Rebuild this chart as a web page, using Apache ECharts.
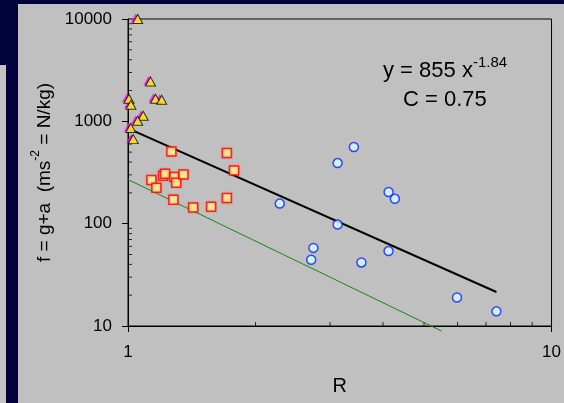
<!DOCTYPE html>
<html><head><meta charset="utf-8">
<script src="https://cdn.jsdelivr.net/npm/echarts@6/dist/echarts.min.js"></script>
<style>html,body{margin:0;padding:0;background:#02023c;overflow:hidden}#c{width:564px;height:403px}</style>
</head><body><div id="c"></div>
<script>
// Data (R, f)
const triangles = [[1.054,10000],[1.130,2455],[1.005,1663],[1.016,1452],[1.161,1663],[1.201,1625],[1.086,1133],[1.054,1013],[1.015,859],[1.029,670]];
const squares = [[1.266,508],[1.712,490],[1.780,331],[1.136,267],[1.167,224],[1.210,294],[1.223,307],[1.287,285],[1.300,251],[1.352,303],[1.280,171],[1.425,144],[1.571,146],[1.712,178]];
const circles = [[2.282,157],[3.414,561],[3.125,391],[4.123,204],[4.266,175],[3.125,98],[2.740,58],[2.707,44.4],[3.557,41.8],[4.123,54],[5.98,19.0],[7.41,13.9]];
const fitLine = [[1,855],[7.41,21.5]];
const lowerLine = [[1,270],[5.5,8.93]];
const xTickLabels = ['1','10'];
const yTickLabels = ['10','100','1000','10000'];
const xMinorTicks = [2,3,4,5,6,7,8,9];
const yMinorTicks = [20,30,40,50,60,70,80,90,200,300,400,500,600,700,800,900,2000,3000,4000,5000,6000,7000,8000,9000];

const FONT = '"Liberation Sans", Arial, sans-serif';
const chart = echarts.init(document.getElementById('c'), null, {renderer:'canvas'});
chart.setOption({
  backgroundColor: '#02023c',
  animation: false,
  textStyle: {fontFamily: FONT},
  graphic: [
    {type:'rect', shape:{x:18,y:4,width:546,height:399}, style:{fill:'#c0c0c0'}, z:-10},
    {type:'rect', shape:{x:17,y:4,width:1,height:399}, style:{fill:'#000000'}, z:-10},
    {type:'rect', shape:{x:0,y:65,width:6,height:338}, style:{fill:'#c4c4c4'}, z:-10},
    {type:'text', left:383, top:55, z:50, style:{
      text:'{a|y = 855 x}{s|-1.84}', fill:'#000', font:'22px '+FONT,
      rich:{a:{fontSize:22, fontFamily:FONT, lineHeight:27, verticalAlign:'bottom'}, s:{fontSize:15, fontFamily:FONT, verticalAlign:'top', lineHeight:15}}
    }},
    {type:'text', left:403, top:89, z:50, style:{text:'C = 0.75', fill:'#000', font:'22px '+FONT}}
  ],
  grid: {left:128, right:9, top:19, bottom:77, show:true, borderColor:'#000', borderWidth:1, backgroundColor:'transparent'},
  xAxis: {
    type:'log', logBase:10, min:1, max:10,
    name:'R', nameLocation:'middle', nameGap:50,
    nameTextStyle:{fontSize:20, color:'#000', fontFamily:FONT},
    axisLine:{lineStyle:{color:'#000', width:1}},
    axisTick:{show:true, length:6, lineStyle:{color:'#000'}},
    axisLabel:{fontSize:17, color:'#000', margin:18, fontFamily:FONT,
      formatter: v => xTickLabels[Math.round(Math.log10(v))] ?? ''},
    splitLine:{show:false}
  },
  yAxis: {
    type:'log', logBase:10, min:10, max:10000,
    name:'{a|f = g+a  (ms}{s|-2}{a| = N/kg)}', nameLocation:'middle', nameRotate:90, nameGap:72,
    nameTextStyle:{color:'#000', fontFamily:FONT, rich:{
      a:{fontSize:19, fontFamily:FONT, color:'#000', lineHeight:24, verticalAlign:'bottom'},
      s:{fontSize:12, fontFamily:FONT, color:'#000', lineHeight:12, verticalAlign:'top'}}},
    axisLine:{lineStyle:{color:'#000', width:1}},
    axisTick:{show:true, length:6, lineStyle:{color:'#000'}},
    axisLabel:{fontSize:17, color:'#000', margin:16, fontFamily:FONT,
      formatter: v => yTickLabels[Math.round(Math.log10(v)) - 1] ?? ''},
    splitLine:{show:false}
  },
  series: [
    {type:'scatter', data:xMinorTicks.map(v=>[v,10]), symbol:'rect', symbolSize:[1,4], symbolOffset:[0,-2], itemStyle:{color:'#000'}, silent:true, clip:false, z:5},
    {type:'scatter', data:yMinorTicks.map(v=>[1,v]), symbol:'rect', symbolSize:[4,1], symbolOffset:[2,0], itemStyle:{color:'#000'}, silent:true, clip:false, z:5},
    {type:'line', data:lowerLine, showSymbol:false, symbol:'none', clip:false, lineStyle:{color:'#138a13', width:1}, z:6, silent:true},
    {type:'line', data:fitLine, showSymbol:false, symbol:'none', clip:false, lineStyle:{color:'#000', width:2}, z:6, silent:true},
    {type:'scatter', data:triangles, symbol:'triangle', symbolSize:[10,9], symbolOffset:[-2,-1], itemStyle:{color:'#ff00ff'}, clip:false, z:7, silent:true},
    {type:'scatter', data:triangles, symbol:'triangle', symbolSize:[10,9], itemStyle:{color:'#ffff00', borderColor:'#000', borderWidth:1}, clip:false, z:8},
    {type:'scatter', data:squares, symbol:'rect', symbolSize:9, itemStyle:{color:'#ffff99', borderColor:'#ff0000', borderWidth:1.5, shadowBlur:2, shadowColor:'rgba(255,60,60,0.5)'}, clip:false, z:8},
    {type:'scatter', data:circles, symbol:'circle', symbolSize:9, itemStyle:{color:'#ccffff', borderColor:'#1a1aff', borderWidth:1.5}, clip:false, z:8}
  ]
});
</script></body></html>
